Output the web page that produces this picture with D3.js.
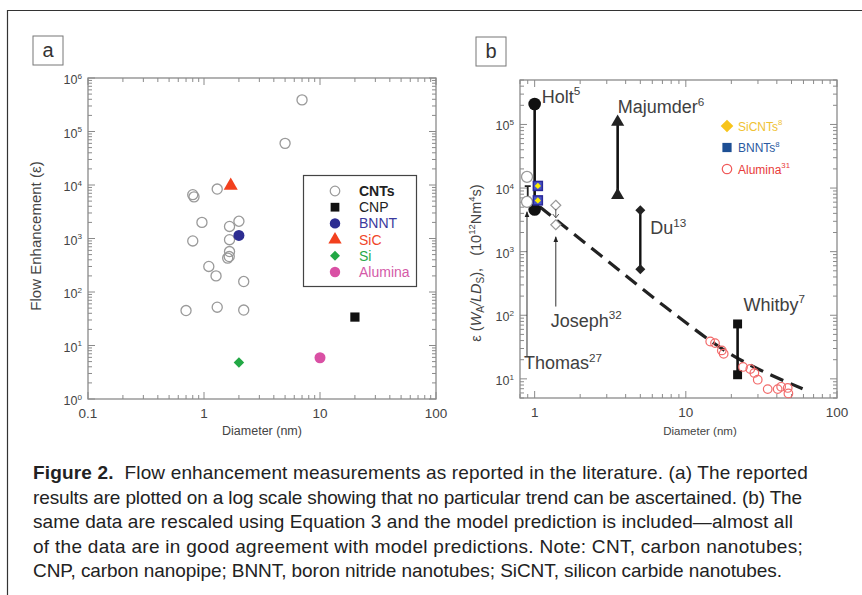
<!DOCTYPE html>
<html lang="en">
<head>
<meta charset="UTF-8">
<title>Figure 2 - Flow enhancement</title>
<script src="https://cdn.jsdelivr.net/npm/d3@7"></script>
<style>
  *{margin:0;padding:0}
  body{background:#fff;width:862px;height:595px;overflow:hidden}
  svg text{font-family:'Liberation Sans',Arial,Helvetica,sans-serif}
</style>
</head>
<body>
<svg id="fig" width="862" height="595"></svg>
<script>
/* ---------- DATA : panel a  [diameter nm, enhancement] ---------- */
const cntPts     = [[7,3.9e5],[5,6e4],[1.3,8.4e3],[0.8,6.6e3],[0.82,6.0e3],[0.96,2.0e3],[0.8,900],
                    [1.66,1680],[2.0,2100],[1.66,950],[1.66,570],[1.6,430],[1.65,460],[1.1,300],
                    [1.27,200],[2.2,157],[0.7,45],[1.3,52],[2.2,46]];
const cnpPts     = [[20,34]];
const bnntPts    = [[2.0,1140]];
const sicPts     = [[1.7,9700]];
const siPts      = [[2.0,4.8]];
const aluminaPts = [[10,5.9]];
const legendA    = ['CNTs','CNP','BNNT','SiC','Si','Alumina'];

/* ---------- DATA : panel b  [diameter nm, rescaled enhancement] ---------- */
const holt      = [[1.0,2.1e5],[1.0,4600]];
const majumder  = [[3.54,1.09e5],[3.54,7700]];
const du        = [[5.0,4490],[5.0,527]];
const whitby    = [[22,73],[22,11.6]];
const thomas    = [[0.89,1.5e4],[0.89,6070]];
const thomasBar = [[0.9,1.07e4],[0.9,7100]];
const joseph    = [[1.38,5370],[1.38,2650]];
const bnntB     = [[1.05,1.08e4],[1.05,6400]];
const sicntB    = [[1.05,1.08e4],[1.05,6400]];
const alumina31 = [[14.5,38.7],[15.6,36.5],[17.3,28],[17.8,24.8],[23.9,15.4],[26.7,14.3],[28.4,12.4],
                   [29.9,9.7],[34.8,6.9],[40.5,6.9],[42.7,7.5],[47.2,7.2],[47.7,5.9]];
const model     = [[1.08,5060],[2.7,895],[7.3,136],[19.1,25.8],[59.2,7.0]];
const thomasArrow = [[0.89,22.5],[0.89,4230]];
const josephArrow = [[1.38,137],[1.38,1710]];
const legendB   = ['SiCNTs','BNNTs','Alumina'];

/* ---------- SETUP ---------- */
const svg = d3.select('#fig');
const axisCol = '#8a8a8a', txtCol = '#404040';
const isPow10 = t => Math.abs(Math.log10(t) - Math.round(Math.log10(t))) < 1e-6;
// d3.symbolDiamond is tall: use a 45deg turned square for the plain diamonds
const diamond = {draw(ctx,size){const r=Math.sqrt(size/2);ctx.moveTo(0,-r);ctx.lineTo(r,0);ctx.lineTo(0,r);ctx.lineTo(-r,0);ctx.closePath();}};

// outer figure border (top + left, the rest is off-canvas)
svg.append('path').attr('d','M862,10.5 H7.5 V595').attr('fill','none').attr('stroke','#333').attr('stroke-width',1.2);

function panelTag(x,y,label){
  svg.append('rect').attr('x',x).attr('y',y).attr('width',30).attr('height',29)
     .attr('fill','#fff').attr('stroke','#777').attr('stroke-width',1);
  svg.append('text').attr('x',x+15).attr('y',y+21).attr('text-anchor','middle')
     .attr('font-size',20).attr('fill','#333').text(label);
}

function supText(g,x,y,base,sup,opts){
  const t = g.append('text').attr('x',x).attr('y',y).attr('fill',opts.fill||txtCol)
             .attr('font-size',opts.size).attr('text-anchor',opts.anchor||'start');
  t.append('tspan').text(base);
  t.append('tspan').attr('dy',-opts.size*0.42).attr('font-size',opts.size*0.65).text(sup);
  return t;
}

function drawAxes(xs,ys,xLabels){
  const [x0,x1]=xs.range(), [y0,y1]=ys.range();
  const g = svg.append('g');
  g.append('rect').attr('x',x0).attr('y',y1).attr('width',x1-x0).attr('height',y0-y1)
   .attr('fill','none').attr('stroke',axisCol).attr('stroke-width',1.3);
  xs.ticks().forEach(t=>{
    const p=xs(t), l=isPow10(t)?7:4;
    g.append('line').attr('x1',p).attr('x2',p).attr('y1',y0).attr('y2',y0-l).attr('stroke',axisCol);
    g.append('line').attr('x1',p).attr('x2',p).attr('y1',y1).attr('y2',y1+l).attr('stroke',axisCol);
  });
  ys.ticks().forEach(t=>{
    const p=ys(t), l=isPow10(t)?7:4;
    g.append('line').attr('y1',p).attr('y2',p).attr('x1',x0).attr('x2',x0+l).attr('stroke',axisCol);
    g.append('line').attr('y1',p).attr('y2',p).attr('x1',x1).attr('x2',x1-l).attr('stroke',axisCol);
    if(isPow10(t)) supText(g,x0-6,p+6,'10',String(Math.round(Math.log10(t))),{size:12.5,anchor:'end',fill:'#444'});
  });
  xLabels.forEach(t=>{
    g.append('text').attr('x',xs(t)).attr('y',y0+19).attr('text-anchor','middle')
     .attr('font-size',13.5).attr('fill','#444').text(t);
  });
  return g;
}

/* ---------- PANEL A ---------- */
panelTag(33,36,'a');
const xa = d3.scaleLog().domain([0.1,100]).range([88,436]);
const ya = d3.scaleLog().domain([1,1e6]).range([399,78]);
const ga = drawAxes(xa,ya,[0.1,1,10,100]);
ga.append('text').attr('x',262).attr('y',435).attr('text-anchor','middle').attr('font-size',12.5)
  .attr('fill','#444').text('Diameter (nm)');
ga.append('text').attr('transform','translate(41,236) rotate(-90)').attr('text-anchor','middle')
  .attr('font-size',15).attr('fill','#444').text('Flow Enhancement (ε)');

const symA = {
  CNTs:   {shape:d3.symbolCircle,  size:80,  fill:'none',    stroke:'#9a9a9a', txt:'#222', bold:true},
  CNP:    {shape:d3.symbolSquare,  size:85,  fill:'#111',    stroke:'none',    txt:'#222'},
  BNNT:   {shape:d3.symbolCircle,  size:95,  fill:'#2d2d92', stroke:'none',    txt:'#3a3a9e'},
  SiC:    {shape:d3.symbolTriangle,size:85,  fill:'#f2401e', stroke:'none',    txt:'#f0452a'},
  Si:     {shape:diamond,          size:55,  fill:'#22a845', stroke:'none',    txt:'#2aa94a'},
  Alumina:{shape:d3.symbolCircle,  size:95,  fill:'#d950a4', stroke:'none',    txt:'#d45aa8'}
};
const seriesA = [['CNTs',cntPts],['CNP',cnpPts],['BNNT',bnntPts],['SiC',sicPts],['Si',siPts],['Alumina',aluminaPts]];
seriesA.forEach(([name,pts])=>{
  const s=symA[name];
  ga.append('g').selectAll('path').data(pts).join('path')
    .attr('transform',d=>`translate(${xa(d[0])},${ya(d[1])})`)
    .attr('d',d3.symbol().type(s.shape).size(s.size))
    .attr('fill',s.fill).attr('stroke',s.stroke).attr('stroke-width',1.3);
});
// legend a
const lg = ga.append('g');
lg.append('rect').attr('x',303.5).attr('y',175.5).attr('width',113).attr('height',111)
  .attr('fill','#fff').attr('stroke','#444').attr('stroke-width',1.2);
legendA.forEach((name,i)=>{
  const s=symA[name], cy=191+i*16.2;
  lg.append('path').attr('transform',`translate(335,${cy})`)
    .attr('d',d3.symbol().type(s.shape).size(s.size*0.9))
    .attr('fill',s.fill).attr('stroke',s.stroke).attr('stroke-width',1.2);
  lg.append('text').attr('x',359).attr('y',cy+5).attr('font-size',14).attr('fill',s.txt)
    .attr('font-weight',s.bold?'bold':'normal').text(name);
});

/* ---------- PANEL B ---------- */
panelTag(476,37,'b');
const xb = d3.scaleLog().domain([0.8,100]).range([520,837]);
const yb = d3.scaleLog().domain([5,5e5]).range([398,80]);
const gb = drawAxes(xb,yb,[1,10,100]);
gb.append('text').attr('x',700).attr('y',435).attr('text-anchor','middle').attr('font-size',11.5)
  .attr('fill','#444').text('Diameter (nm)');
// rotated y title
const yt = gb.append('text').attr('transform','translate(481,263) rotate(-90)').attr('text-anchor','middle')
  .attr('font-size',14.5).attr('fill','#444');
yt.append('tspan').text('ε (');
yt.append('tspan').attr('font-style','italic').text('W');
yt.append('tspan').attr('dy',3).attr('font-size',10).text('A');
yt.append('tspan').attr('dy',-3).attr('font-style','italic').text('/LD');
yt.append('tspan').attr('dy',3).attr('font-size',10).text('S');
yt.append('tspan').attr('dy',-3).text('),\u00a0\u00a0\u00a0(10');
yt.append('tspan').attr('dy',-6).attr('font-size',9.5).text('12');
yt.append('tspan').attr('dy',6).text('Nm');
yt.append('tspan').attr('dy',-6).attr('font-size',9.5).text('4');
yt.append('tspan').attr('dy',6).text('s)');

const lineB = d3.line().x(d=>xb(d[0])).y(d=>yb(d[1]));
// model curve
gb.append('path').datum(model).attr('d',d3.line().x(d=>xb(d[0])).y(d=>yb(d[1])).curve(d3.curveMonotoneX))
  .attr('fill','none').attr('stroke','#222').attr('stroke-width',3.2).attr('stroke-dasharray','14,8');

// arrows
svg.append('defs').append('marker').attr('id','ah').attr('viewBox','0 0 10 10').attr('refX',9).attr('refY',5)
  .attr('markerWidth',6).attr('markerHeight',6).attr('orient','auto')
  .append('path').attr('d','M0,1 L10,5 L0,9 Z').attr('fill','#222');
[thomasArrow,josephArrow].forEach(a=>{
  gb.append('path').datum(a).attr('d',lineB).attr('stroke','#333').attr('stroke-width',1)
    .attr('fill','none').attr('marker-end','url(#ah)');
});

// range bars
function rangeBar(pts,shape,size,fill,w){
  gb.append('path').datum(pts).attr('d',lineB).attr('stroke','#111').attr('stroke-width',w);
  gb.append('g').selectAll('path').data(pts).join('path')
    .attr('transform',d=>`translate(${xb(d[0])},${yb(d[1])})`)
    .attr('d',d3.symbol().type(shape).size(size)).attr('fill',fill);
}
rangeBar(holt,d3.symbolCircle,125,'#111',2.6);
rangeBar(majumder,d3.symbolTriangle,75,'#222',2.6);
rangeBar(du,diamond,50,'#222',2.4);
rangeBar(whitby,d3.symbolSquare,80,'#111',2.6);

// thomas small bar (I with a slanted tail)
const tb0 = [xb(thomasBar[0][0]),yb(thomasBar[0][1])], tb1 = [xb(thomasBar[1][0]),yb(thomasBar[1][1])];
gb.append('path').attr('d',`M${tb0[0]-3},${tb0[1]} H${tb0[0]+3} M${tb0[0]},${tb0[1]} V${tb1[1]} M${tb1[0]-3},${tb1[1]} H${tb1[0]+2} L${tb1[0]+7},${tb1[1]+7}`)
  .attr('fill','none').attr('stroke','#222').attr('stroke-width',1.8);
// thomas open circles
gb.append('g').selectAll('circle').data(thomas).join('circle')
  .attr('cx',d=>xb(d[0])).attr('cy',d=>yb(d[1])).attr('r',5.5)
  .attr('fill','#fff').attr('stroke','#9a9a9a').attr('stroke-width',1.3);
// joseph open diamonds
gb.append('g').selectAll('path').data(joseph).join('path')
  .attr('transform',d=>`translate(${xb(d[0])},${yb(d[1])})`)
  .attr('d',d3.symbol().type(diamond).size(50))
  .attr('fill','#fff').attr('stroke','#9a9a9a').attr('stroke-width',1.2);
gb.append('path').attr('d',`M${xb(1.38)},${yb(4700)} V${yb(3400)} M${xb(1.38)-3},${yb(3900)} L${xb(1.38)},${yb(3400)} L${xb(1.38)+3},${yb(3900)}`)
  .attr('fill','none').attr('stroke','#555').attr('stroke-width',1);

// BNNT squares with SiCNT diamonds
gb.append('g').selectAll('rect').data(bnntB).join('rect')
  .attr('x',d=>xb(d[0])-4.5).attr('y',d=>yb(d[1])-4.5).attr('width',9).attr('height',9)
  .attr('fill','#4a56c8').attr('stroke','#2a2a9a').attr('stroke-width',1.5);
gb.append('g').selectAll('path').data(sicntB).join('path')
  .attr('transform',d=>`translate(${xb(d[0])},${yb(d[1])})`)
  .attr('d',d3.symbol().type(diamond).size(20)).attr('fill','#ffee00');

// alumina open circles
gb.append('g').selectAll('circle').data(alumina31).join('circle')
  .attr('cx',d=>xb(d[0])).attr('cy',d=>yb(d[1])).attr('r',4.3)
  .attr('fill','none').attr('stroke','#f26a6a').attr('stroke-width',1.2);

// annotations
const ann = {size:18, fill:'#404040'};
supText(gb,xb(1.0)+7,yb(2.1e5)-1,'Holt','5',ann);
supText(gb,xb(3.54),yb(1.09e5)-9,'Majumder','6',ann);
supText(gb,xb(5.0)+10,yb(4490)+24,'Du','13',ann);
supText(gb,xb(22)+6,yb(73)-13,'Whitby','7',ann);
supText(gb,xb(1.38)-5,yb(137)+20,'Joseph','32',ann);
supText(gb,xb(0.89)-3,yb(22.5)+13,'Thomas','27',ann);

// legend b
const lgb = gb.append('g');
const symB = [
  {shape:diamond,size:80,fill:'#f7c41a',stroke:'none',txt:'#f0c232',sup:'8'},
  {shape:d3.symbolSquare,size:85,fill:'#1d4f94',stroke:'none',txt:'#2a5aa0',sup:'8'},
  {shape:d3.symbolCircle,size:70,fill:'#fff',stroke:'#f05a5a',txt:'#e83a3a',sup:'31'}
];
legendB.forEach((name,i)=>{
  const s=symB[i], cy=126+i*21.5;
  lgb.append('path').attr('transform',`translate(727,${cy})`)
     .attr('d',d3.symbol().type(s.shape).size(s.size)).attr('fill',s.fill).attr('stroke',s.stroke).attr('stroke-width',1.2);
  supText(lgb,738,cy+4.5,name,s.sup,{size:12,fill:s.txt});
});

/* ---------- CAPTION ---------- */
const capLines = [
  'Flow enhancement measurements as reported in the literature. (a) The reported',
  'results are plotted on a log scale showing that no particular trend can be ascertained. (b) The',
  'same data are rescaled using Equation 3 and the model prediction is included\u2014almost all',
  'of the data are in good agreement with model predictions. Note: CNT, carbon nanotubes;',
  'CNP, carbon nanopipe; BNNT, boron nitride nanotubes; SiCNT, silicon carbide nanotubes.'
];
const capEnds = [808,802,793,803,782];   // right edge of each caption line in the print
const cap = svg.append('g').attr('fill','#222').attr('font-size',19);
capLines.forEach((s,i)=>{
  const t = cap.append('text').attr('x',33).attr('y',479+i*24.6);
  if(i===0){
    t.append('tspan').attr('font-weight','bold').text('Figure 2.');
    t.append('tspan').text('\u00a0 '+s);
  } else t.text(s);
  const n = t.text().length, w = t.node().getComputedTextLength();
  t.attr('letter-spacing',((capEnds[i]-33)-w)/n);
});
</script>
</body>
</html>
